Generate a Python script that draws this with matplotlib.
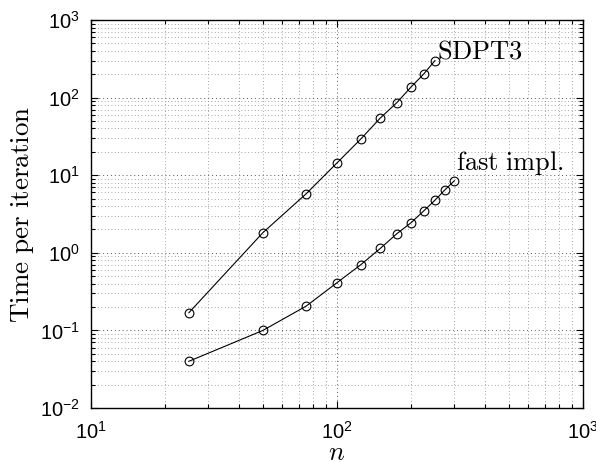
import matplotlib
matplotlib.use("Agg")
import matplotlib.pyplot as plt
from matplotlib.ticker import LogLocator, NullFormatter, LogFormatterMathtext

plt.rcParams['mathtext.fontset'] = 'custom'
plt.rcParams['mathtext.rm'] = 'Liberation Sans'
plt.rcParams['mathtext.it'] = 'Liberation Sans:italic'
plt.rcParams['mathtext.bf'] = 'Liberation Sans:bold'
plt.rcParams['mathtext.sf'] = 'Liberation Sans'
plt.rcParams['font.family'] = 'Liberation Sans'

n_sdpt3 = [25, 50, 75, 100, 125, 150, 175, 200, 225, 250]
t_sdpt3 = [0.169, 1.82, 5.78, 14.4, 29.3, 54.6, 86, 137, 201, 299]
n_fast = [25, 50, 75, 100, 125, 150, 175, 200, 225, 250, 275, 300]
t_fast = [0.040, 0.100, 0.206, 0.412, 0.703, 1.14, 1.76, 2.44, 3.46, 4.75, 6.50, 8.49]

fig = plt.figure(figsize=(5.96, 4.62), dpi=100)
ax = fig.add_axes([91/596, 1 - 408/462, (583-91)/596, (408-20)/462])

ax.plot(n_sdpt3, t_sdpt3, '-o', color='black', lw=0.8, ms=6.3, mfc='none', mew=0.8)
ax.plot(n_fast, t_fast, '-o', color='black', lw=0.8, ms=6.3, mfc='none', mew=0.8)

ax.set_xscale('log')
ax.set_yscale('log')
ax.set_xlim(10, 1000)
ax.set_ylim(1e-2, 1e3)

ax.xaxis.set_major_locator(LogLocator(base=10, numticks=10))
ax.yaxis.set_major_locator(LogLocator(base=10, numticks=10))
ax.xaxis.set_minor_locator(LogLocator(base=10, subs=range(2, 10), numticks=20))
ax.yaxis.set_minor_locator(LogLocator(base=10, subs=range(2, 10), numticks=20))
ax.xaxis.set_minor_formatter(NullFormatter())
ax.yaxis.set_minor_formatter(NullFormatter())
ax.xaxis.set_major_formatter(LogFormatterMathtext())
ax.yaxis.set_major_formatter(LogFormatterMathtext())

ax.tick_params(which='both', direction='in', top=True, right=True, width=0.8)
ax.tick_params(which='major', length=5, labelsize=14.5)
ax.tick_params(which='minor', length=3)
ax.tick_params(axis='x', which='major', pad=9)
ax.tick_params(axis='y', which='major', pad=8)

ax.grid(True, which='major', color='#555555', ls=(0, (1, 3)), lw=0.7)
ax.grid(True, which='minor', color='#888888', ls=(0, (1, 3)), lw=0.6)
for s in ax.spines.values():
    s.set_linewidth(1.0)

ax.text(255, 390, r'$\mathrm{SDPT3}$', math_fontfamily='cm', fontsize=19,
        ha='left', va='center')
ax.text(306, 14.4, r'$\mathrm{fast\ impl.}$', math_fontfamily='cm', fontsize=19,
        ha='left', va='center')

ax.set_ylabel(r'$\mathrm{Time\ per\ iteration}$', math_fontfamily='cm', fontsize=19.5, labelpad=3)
ax.set_xlabel(r'$n$', math_fontfamily='cm', fontsize=19, labelpad=-1)

fig.savefig('out.png', dpi=100, facecolor='white')
